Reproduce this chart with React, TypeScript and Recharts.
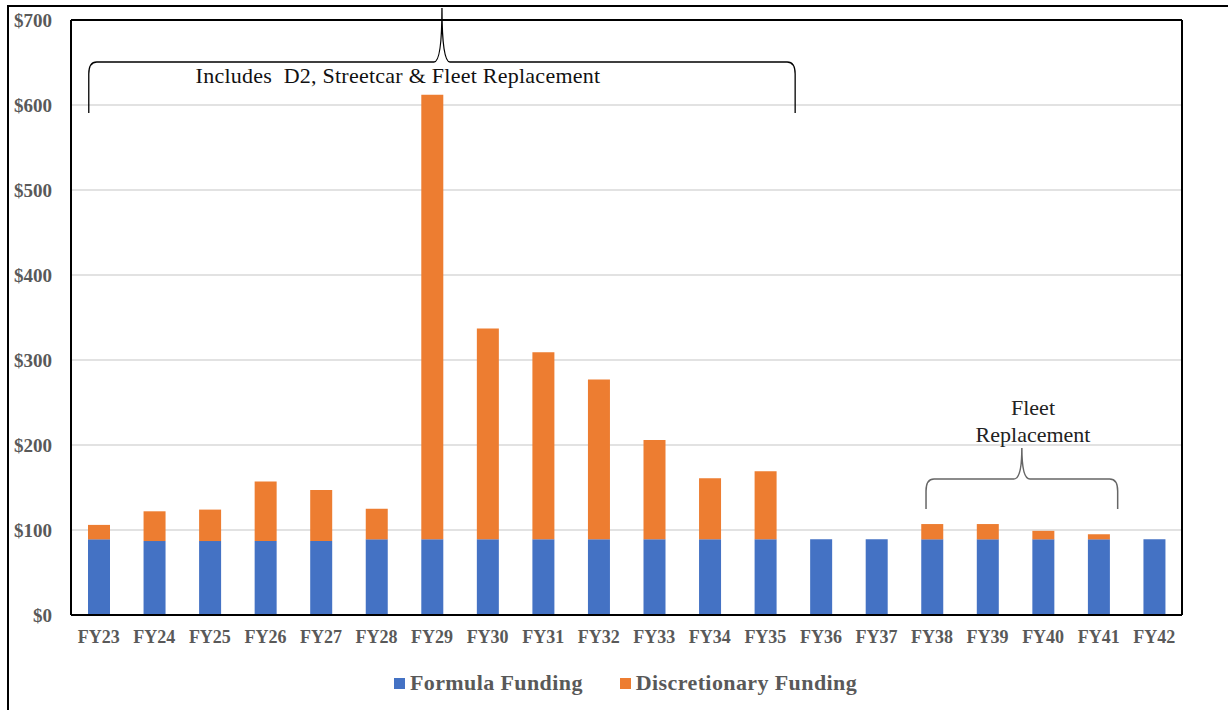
import React from 'react';
import { BarChart, Bar, XAxis, YAxis, CartesianGrid, Legend, ReferenceLine } from 'recharts';

const categories = ['FY23', 'FY24', 'FY25', 'FY26', 'FY27', 'FY28', 'FY29', 'FY30', 'FY31', 'FY32',
  'FY33', 'FY34', 'FY35', 'FY36', 'FY37', 'FY38', 'FY39', 'FY40', 'FY41', 'FY42'];
const formulaFunding = [89, 87, 87, 87, 87, 89, 89, 89, 89, 89, 89, 89, 89, 89, 89, 89, 89, 89, 89, 89];
const discretionaryFunding = [17, 35, 37, 70, 60, 36, 523, 248, 220, 188, 117, 72, 80, 0, 0, 18, 18, 10, 6, 0];
const yTicks = [0, 100, 200, 300, 400, 500, 600, 700];

const series = [
  { key: 'formula', name: 'Formula Funding', color: '#4472C4' },
  { key: 'discretionary', name: 'Discretionary Funding', color: '#ED7D31' },
];

const data = categories.map((name, i) => ({
  name,
  formula: formulaFunding[i],
  discretionary: discretionaryFunding[i],
}));

const W = 1228;
const H = 710;
const plotLeft = 71;
const plotRight = 1182;
const plotTop = 20;
const plotBottom = 615;
const band = (plotRight - plotLeft) / categories.length;
const xAt = (i: number) => plotLeft + band * (i + 0.5);

const font = '"Liberation Serif", "Times New Roman", serif';
const gray = '#595959';

// curly brace opening downward, peak at the middle
const brace = (x1: number, x2: number, yTop: number, yEnd: number, yPeak: number, r: number) => {
  const cx = (x1 + x2) / 2;
  return `M ${x1} ${yEnd} L ${x1} ${yTop + r * 1.5} Q ${x1} ${yTop} ${x1 + r} ${yTop} ` +
    `L ${cx - r} ${yTop} Q ${cx} ${yTop} ${cx} ${yPeak} Q ${cx} ${yTop} ${cx + r} ${yTop} ` +
    `L ${x2 - r} ${yTop} Q ${x2} ${yTop} ${x2} ${yTop + r * 1.5} L ${x2} ${yEnd}`;
};

const LegendContent = () => (
  <div style={{ display: 'flex', justifyContent: 'center', alignItems: 'center', paddingTop: 7, paddingLeft: 68, lineHeight: '22px', fontFamily: font, fontWeight: 'bold', fontSize: 22, letterSpacing: 0.4, color: gray }}>
    {series.map((s, i) => (
      <div key={s.key} style={{ display: 'flex', alignItems: 'center', marginLeft: i ? 37 : 0 }}>
        <span style={{ display: 'inline-block', width: 11, height: 11, background: s.color, marginRight: 5 }} />
        <span>{s.name}</span>
      </div>
    ))}
  </div>
);

const App = () => {
  const bigX1 = xAt(0) - 10;
  const bigX2 = plotLeft + band * 13 + 2;
  const smallX1 = xAt(15) - 6;
  const smallX2 = xAt(18) + 19;
  return (
    <div style={{ position: 'absolute', left: 0, top: 0, width: W, height: H, background: '#fff', overflow: 'hidden' }}>
      <div style={{ position: 'absolute', left: 7, top: 5, width: W, height: H, borderTop: '2px solid #000', borderLeft: '2px solid #000' }} />
      <BarChart
        width={W}
        height={H}
        data={data}
        margin={{ top: plotTop, right: W - plotRight - 1, left: 0, bottom: 0 }}
        style={{ position: 'absolute', left: 0, top: 0 }}
      >
        <CartesianGrid vertical={false} stroke="#d9d9d9" strokeWidth={1.5} />
        <XAxis
          dataKey="name"
          height={H - plotBottom - 45}
          tickLine={false}
          tickSize={0}
          tickMargin={15}
          axisLine={{ stroke: '#000', strokeWidth: 2 }}
          tick={{ fill: gray, fontFamily: font, fontWeight: 'bold', fontSize: 18 }}
          interval={0}
        />
        <YAxis
          width={plotLeft}
          domain={[0, 700]}
          ticks={yTicks}
          tickFormatter={(v: number) => `$${v}`}
          tickLine={false}
          tickSize={0}
          tickMargin={19}
          axisLine={{ stroke: '#000', strokeWidth: 2 }}
          tick={{ fill: gray, fontFamily: font, fontWeight: 'bold', fontSize: 19 }}
        />
        <YAxis
          yAxisId="right"
          orientation="right"
          width={1}
          domain={[0, 700]}
          tick={false}
          tickLine={false}
          axisLine={{ stroke: '#000', strokeWidth: 2 }}
        />
        <ReferenceLine y={700} stroke="#000" strokeWidth={2} />
        <Legend verticalAlign="bottom" height={45} content={LegendContent} />
        {series.map((s) => (
          <Bar key={s.key} dataKey={s.key} name={s.name} stackId="a" fill={s.color} barSize={22} isAnimationActive={false} />
        ))}
      </BarChart>
      <svg width={W} height={H} style={{ position: 'absolute', left: 0, top: 0, pointerEvents: 'none' }}>
        <path d={brace(bigX1, bigX2, 62, 113, 8, 8)} fill="none" stroke="#000" strokeWidth={1.3} />
        <text x={398} y={83} textAnchor="middle" fontFamily={font} fontSize={22} letterSpacing={0.25} fill="#111" style={{ whiteSpace: 'pre' }}>
          {'Includes  D2, Streetcar & Fleet Replacement'}
        </text>
        <path d={brace(smallX1, smallX2, 479, 509, 448, 8)} fill="none" stroke="#666" strokeWidth={1.5} />
        <text x={1033} y={415} textAnchor="middle" fontFamily={font} fontSize={22} fill="#222">Fleet</text>
        <text x={1033} y={442} textAnchor="middle" fontFamily={font} fontSize={22} fill="#222">Replacement</text>
      </svg>
    </div>
  );
};

export default App;
